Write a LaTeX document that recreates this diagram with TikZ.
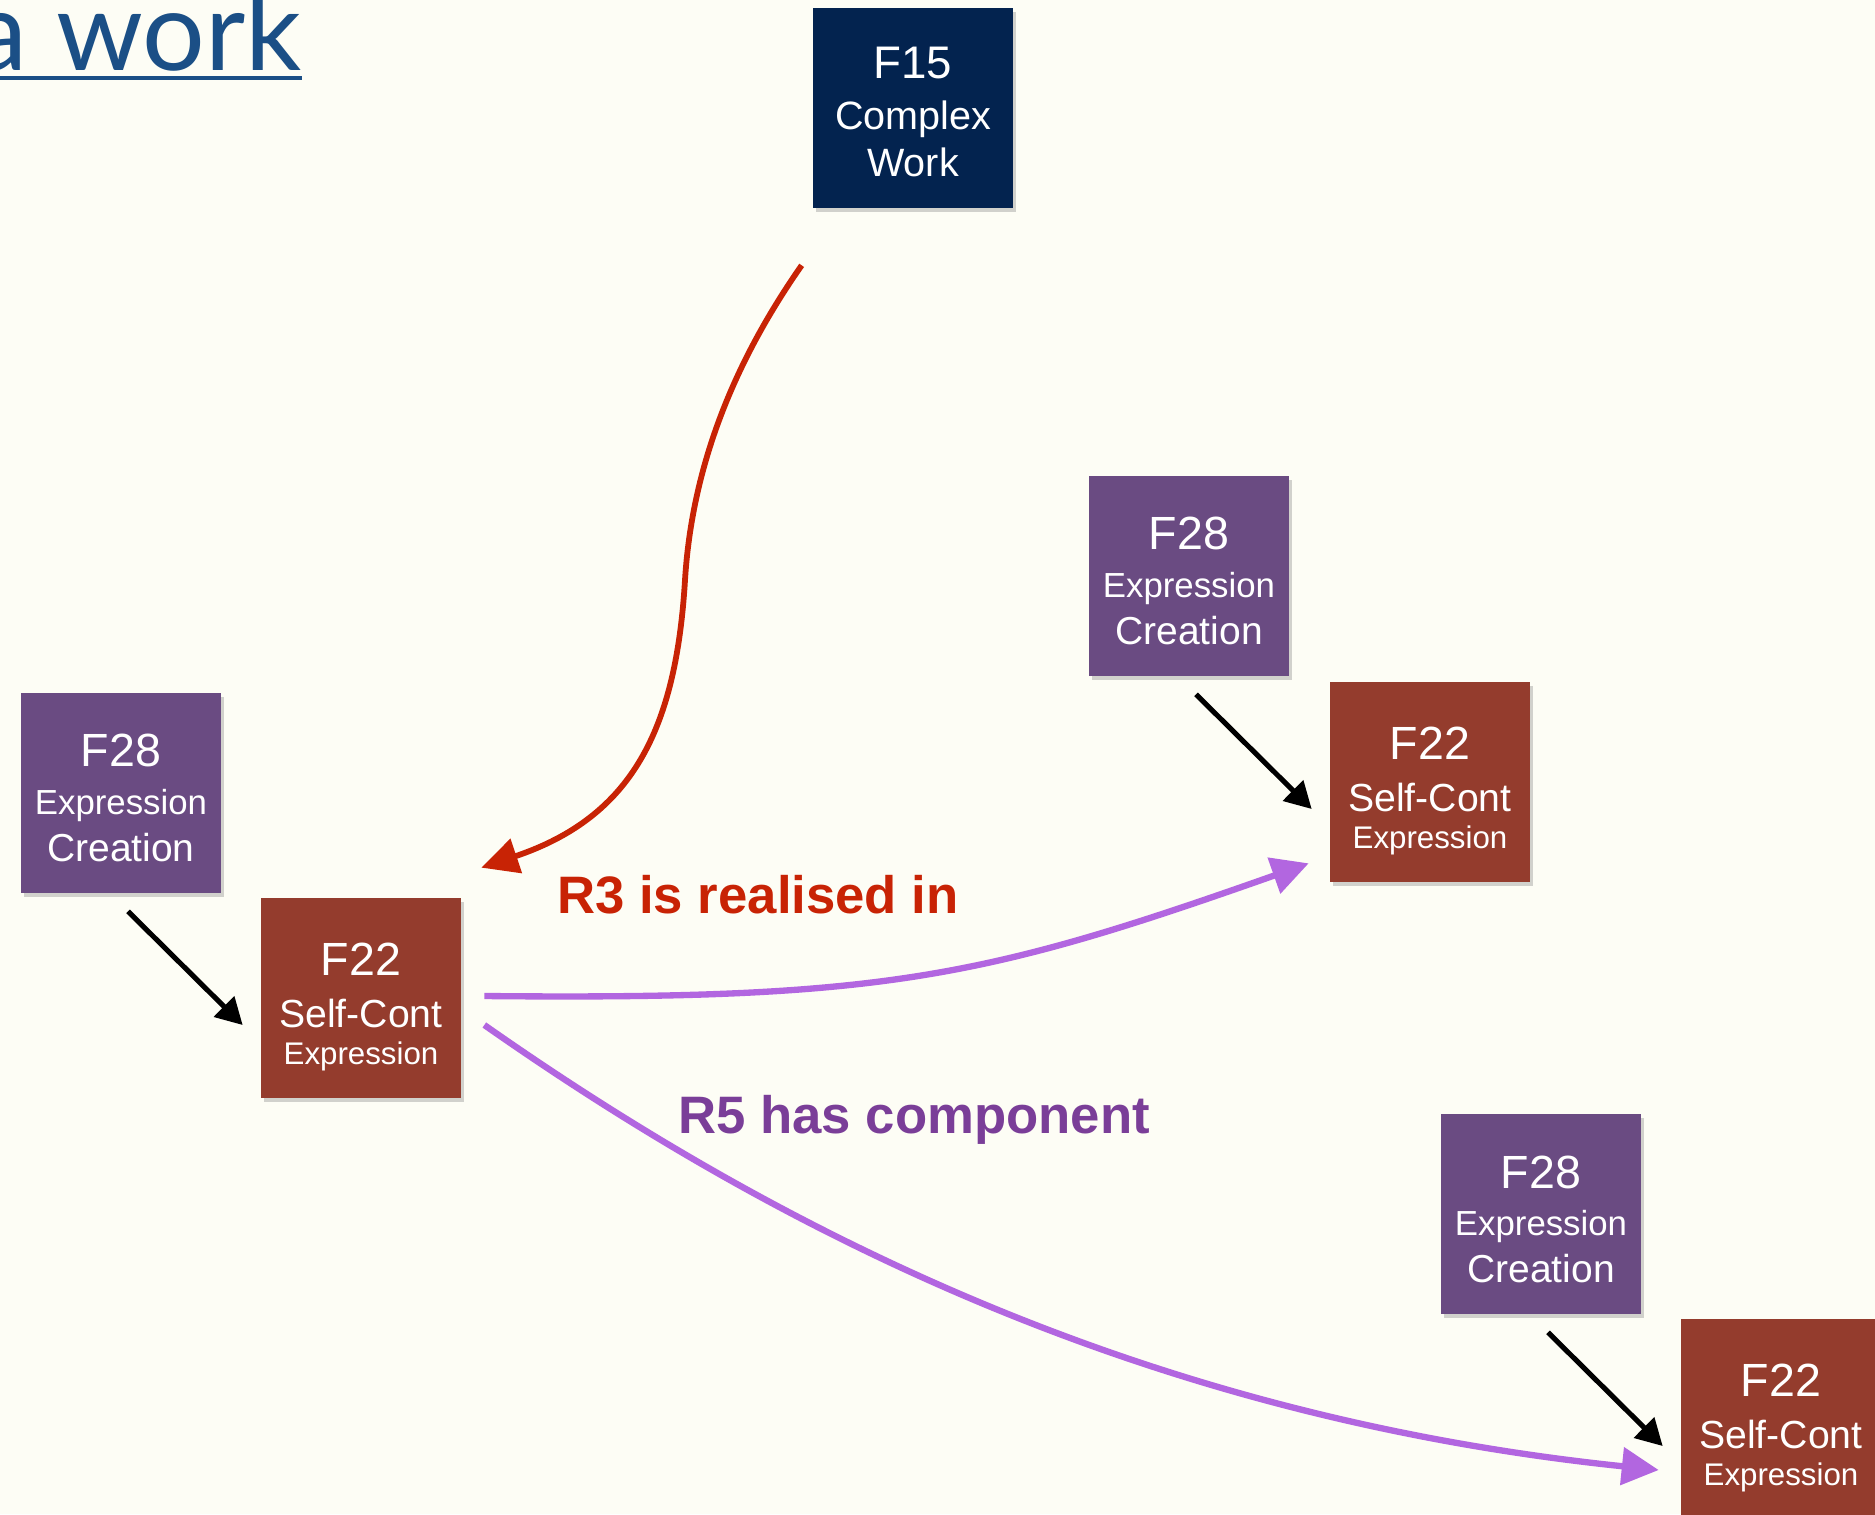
\documentclass[tikz,border=0pt]{standalone}
\usepackage{fontspec}
\setsansfont{Liberation Sans}
\newfontfamily\titlefont{Lato}
\usepackage{tikz}
\usetikzlibrary{arrows.meta,calc,shadows}

\definecolor{bgcream}{HTML}{FDFDF5}
\definecolor{navybox}{HTML}{03234F}
\definecolor{plumbox}{HTML}{6A4B82}
\definecolor{rustbox}{HTML}{943C2D}
\definecolor{realred}{HTML}{C82305}
\definecolor{compurple}{HTML}{B266E0}
\definecolor{labpurple}{HTML}{7A3E98}
\definecolor{titleblue}{HTML}{1B4F86}

\newcommand{\fsz}[1]{\fontsize{#1}{24}\selectfont}

\begin{document}
\begin{tikzpicture}[x=0.02cm, y=-0.02cm,
  frbr/.style={rectangle, minimum width=4cm, minimum height=4cm, inner sep=0pt,
    text=white, align=center, font=\sffamily\fsz{20},
    drop shadow={shadow xshift=1.5pt, shadow yshift=-2.5pt, opacity=0.35}},
  work/.style={frbr, fill=navybox},
  creation/.style={frbr, fill=plumbox},
  expression/.style={frbr, fill=rustbox},
  realised/.style={draw=realred, line width=3.3pt, -{Triangle[length=21pt,width=20pt]}},
  component/.style={draw=compurple, line width=3.6pt, -{Triangle[length=21pt,width=21pt]}},
  carries/.style={draw=black, line width=2.9pt, -{Triangle[length=15pt,width=16pt]}},
  rel/.style={font=\sffamily\bfseries\fontsize{30}{36}\selectfont, anchor=base west, inner sep=0pt}
]
\clip (0,0) rectangle (1875,1514);
\fill[bgcream] (0,0) rectangle (1875,1514);

% heading, cut at the left edge
\node[anchor=base east, inner sep=0pt, text=titleblue,
  font=\titlefont\fontsize{63}{66}\selectfont] (title) at (302,71) {a work};
\draw[titleblue, line width=2.4pt] ($(title.base west)+(0,7)$) -- ($(title.base east)+(0,7)$);

\node[work] (work) at (913,108)
  {\rule{0pt}{22.7pt}\fsz{26}F15\\[4.9pt]\fsz{22.5}Complex\\[2.6pt]\fsz{22.5}Work};

\foreach \n/\p in {cra/{(121,793)}, crb/{(1189,576)}, crc/{(1541,1214)}}{
  \node[creation] (\n) at \p
    {\rule{0pt}{24.4pt}\fsz{26.5}F28\\[3.2pt]\fsz{19.8}Expression\\[2.6pt]\fsz{22.2}Creation};
}
\foreach \n/\p in {exa/{(361,998)}, exb/{(1430,782)}, exc/{(1781,1419)}}{
  \node[expression] (\n) at \p
    {\rule{0pt}{28.7pt}\fsz{26.5}F22\\[5.5pt]\fsz{22.3}Self-Cont\\[-2.5pt]\fsz{17.8}Expression};
}

\foreach \c/\e in {cra/exa, crb/exb, crc/exc}
  \draw[carries] ($(\c.south)+(7,18)$) -- ($(\e.west)+(-18,27)$);

\draw[realised] ($(work.south west)+(-11,57)$) .. controls (746,345) and (693,450) .. (685,580)
  .. controls (676,730) and (632,817) .. ($(exa.north east)+(20,-30)$);
\draw[component] ($(exa.east)+(23,-2)$) .. controls (884,1000) and (984,978) .. ($(exb.south west)+(-21,-19)$);
\draw[component] ($(exa.east)+(23,27)$) .. controls (784,1235) and (1149,1417) .. ($(exc.west)+(-22,51)$);

\node[rel, text=realred] (r3) at (557,913) {R3 is realised in};
\node[rel, text=labpurple] (r5) at (678,1133) {R5 has component};
\end{tikzpicture}
\end{document}
